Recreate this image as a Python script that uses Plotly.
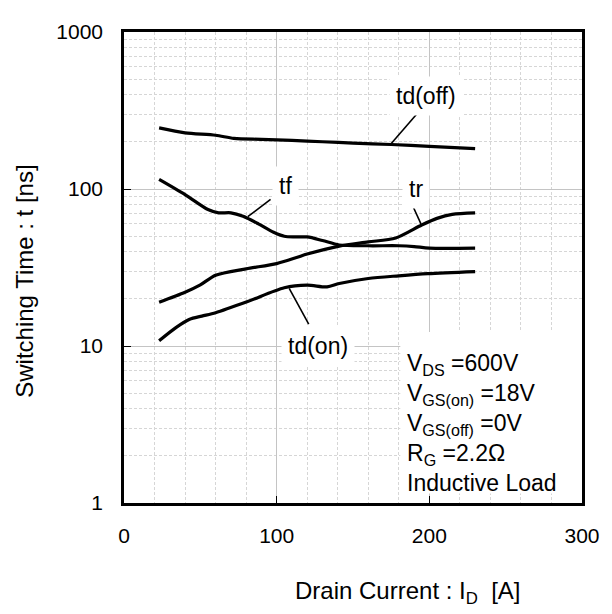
import math
import plotly.graph_objects as go

# ---- data ----
td_off_x = [23, 40, 60, 72, 90, 110, 130, 150, 175, 200, 230]
td_off_y = [245, 228, 220, 210, 207, 204, 200, 196, 192, 187, 181]

tf_x = [23, 40, 55, 62, 70, 78, 88, 98, 105, 112, 120, 130, 141, 160, 180, 190, 200, 230]
tf_y = [115, 92, 74, 70.5, 70.5, 67, 60, 53, 50, 49.5, 49.5, 47, 44, 43.5, 43.5, 43, 42, 42]

tr_x = [23, 40, 50, 60, 80, 100, 113, 120, 141, 160, 178, 195, 205, 215, 230]
tr_y = [19, 22, 24.5, 28.2, 31, 33.5, 36.6, 38.5, 43.3, 46, 48.8, 59, 65, 69, 70.5]

td_on_x = [23, 34, 43, 51, 60, 81, 105, 120, 133, 141, 160, 180, 199, 230]
td_on_y = [10.8, 13.1, 14.8, 15.5, 16.3, 19.2, 23.5, 24.4, 23.8, 25, 26.9, 28, 28.9, 29.8]

x_ticks = [0, 100, 200, 300]
y_ticks = [1, 10, 100, 1000]
x_minor = [20, 40, 60, 80, 120, 140, 160, 180, 220, 240, 260, 280]
y_minor = [m * d for d in (1, 10, 100) for m in range(2, 10)]

labels = ["td(off)", "tf", "tr", "td(on)"]
label_x = [198, 105.5, 191.5, 127]
label_y = [390, 105, 100, 10]
leader_from = [(194.5, 322), (96, 86), (188.5, 80.5), (108.2, 23.3)]
leader_to = [(174.5, 192), (81.1, 66.6), (194.5, 60), (121, 13.8)]

cond_text = ("V<sub>DS</sub> =600V<br>V<sub>GS(on)</sub> =18V<br>"
             "V<sub>GS(off)</sub> =0V<br>R<sub>G</sub> =2.2Ω<br>Inductive Load")

FONT = "Liberation Sans, Arial, sans-serif"

fig = go.Figure()
for xs, ys in [(td_off_x, td_off_y), (tf_x, tf_y), (tr_x, tr_y), (td_on_x, td_on_y)]:
    fig.add_trace(go.Scatter(x=xs, y=ys, mode="lines",
                             line=dict(color="black", width=3.2, shape="spline", smoothing=0.8),
                             showlegend=False, hoverinfo="skip"))

# condition box background (above grid, below traces)
fig.add_shape(type="rect", xref="x", yref="y", x0=181, x1=300, y0=1.15, y1=12.3,
              fillcolor="white", line=dict(width=0), layer="between")

for (x0, y0), (x1, y1) in zip(leader_from, leader_to):
    fig.add_shape(type="line", xref="x", yref="y", x0=x0, y0=y0, x1=x1, y1=y1,
                  line=dict(color="black", width=1.6), layer="above")

for t, x, y in zip(labels, label_x, label_y):
    fig.add_annotation(x=x, y=math.log10(y), xref="x", yref="y", text=t, showarrow=False,
                       font=dict(family=FONT, size=23, color="black"),
                       bgcolor="white", borderpad=6)

fig.add_annotation(x=(410 - 124) / 466, y=(503 - 344) / 482, xref="paper", yref="paper",
                   xanchor="left", yanchor="top", align="left", text=cond_text,
                   showarrow=False, font=dict(family=FONT, size=23, color="black"))

# axis titles
fig.add_annotation(x=0.62, y=-0.19, xref="paper", yref="paper", xanchor="center", yanchor="middle",
                   text="Drain Current : I<sub>D</sub>  [A]", showarrow=False,
                   font=dict(family=FONT, size=24, color="black"))
fig.add_annotation(x=-0.218, y=0.47, xref="paper", yref="paper", xanchor="center", yanchor="middle",
                   text="Switching Time : t [ns]", textangle=-90, showarrow=False,
                   font=dict(family=FONT, size=24, color="black"))

fig.update_xaxes(range=[0, 300], tickvals=x_ticks, ticktext=[str(v) for v in x_ticks],
                 showline=True, linecolor="black", linewidth=2.5, mirror=True,
                 ticks="inside", ticklen=7, tickcolor="black", tickwidth=1,
                 showgrid=True, gridcolor="#c4c4c4", gridwidth=1, zeroline=False,
                 tickfont=dict(family=FONT, size=21, color="black"), ticklabelstandoff=12,
                 ticklabeloverflow="allow",
                 minor=dict(tickvals=x_minor, showgrid=True, gridcolor="#d6d6d6",
                            griddash="3px,2px", gridwidth=1, ticks=""))
fig.update_yaxes(type="log", range=[0, 3], tickvals=y_ticks, ticktext=[str(v) for v in y_ticks],
                 showline=True, linecolor="black", linewidth=2.5, mirror=True,
                 ticks="inside", ticklen=7, tickcolor="black", tickwidth=1,
                 showgrid=True, gridcolor="#c4c4c4", gridwidth=1, zeroline=False,
                 tickfont=dict(family=FONT, size=21, color="black"), ticklabelstandoff=14,
                 ticklabeloverflow="allow",
                 minor=dict(tickvals=y_minor, showgrid=True, gridcolor="#d6d6d6",
                            griddash="3px,2px", gridwidth=1, ticks=""))

# the page body adds an 8px offset: size the figure so the plot lands where the reference has it
fig.update_layout(width=604, height=606, margin=dict(l=116, r=22, t=13, b=111),
                  plot_bgcolor="white", paper_bgcolor="white", showlegend=False,
                  font=dict(family=FONT, color="black"))

fig.write_html("out.html")
